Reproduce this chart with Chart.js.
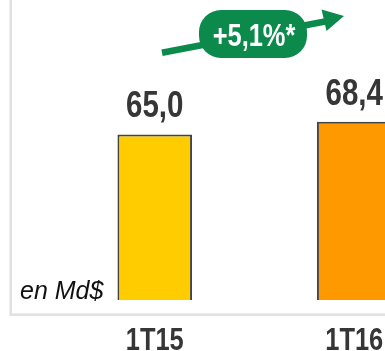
<!DOCTYPE html>
<html>
<head>
<meta charset="utf-8">
<script src="https://cdn.jsdelivr.net/npm/chart.js@4.4.0/dist/chart.umd.min.js"></script>
<style>
  html, body { margin: 0; padding: 0; background: #fff; overflow: hidden; }
  #wrap { width: 385px; height: 351px; overflow: hidden; }
</style>
</head>
<body>
<div id="wrap"><canvas id="chart" width="560" height="351"></canvas></div>
<script>
// data
const quarters = ["1T15", "1T16"];
const revenue = [65.0, 68.4];
const barColors = ["#ffcc00", "#ff9900"];
const growthLabel = "+5,1%*";
const unitLabel = "en Md$";
const yMin = 20.3;
const yMax = 101.3;

const sans = "'Liberation Sans', Arial, sans-serif";
const green = "#0b8a4c";
const darkText = "#363636";
const squeeze = 0.82; // no Arial Narrow here, so squeeze the bold sans

const fmt = v => v.toFixed(1).replace(".", ",");

function narrowText(ctx, text, x, y, sx) {
  ctx.save();
  ctx.translate(x, y);
  ctx.scale(sx, 1);
  ctx.fillText(text, 0, 0);
  ctx.restore();
}

// light gray frame round the plot
const framePlugin = {
  id: "frame",
  beforeDraw(chart) {
    const ctx = chart.ctx;
    ctx.save();
    ctx.strokeStyle = "#e1e1e1";
    ctx.lineWidth = 2.5;
    ctx.strokeRect(10.7, -10, 800, 324.7);
    ctx.restore();
  }
};

// values above bars, category labels, unit text, growth arrow
const labelsPlugin = {
  id: "labels",
  afterDatasetsDraw(chart) {
    const ctx = chart.ctx;
    const area = chart.chartArea;
    const xScale = chart.scales.x;
    const meta = chart.getDatasetMeta(0);
    ctx.save();
    ctx.fillStyle = darkText;
    ctx.textAlign = "center";
    ctx.textBaseline = "alphabetic";
    ctx.font = "bold 36px " + sans;
    meta.data.forEach((bar, i) => {
      narrowText(ctx, fmt(revenue[i]), bar.x, bar.y - 17, squeeze);
    });
    ctx.font = "bold 31px " + sans;
    quarters.forEach((q, i) => {
      narrowText(ctx, q, xScale.getPixelForTick(i), area.bottom + 50, squeeze);
    });

    ctx.fillStyle = "#111";
    ctx.font = "italic 25px " + sans;
    ctx.textAlign = "left";
    ctx.fillText(unitLabel, 20, area.bottom - 1);

    // arrow
    ctx.strokeStyle = green;
    ctx.fillStyle = green;
    ctx.lineWidth = 6.5;
    ctx.beginPath();
    ctx.moveTo(162, 52.7);
    ctx.lineTo(325, 21.5);
    ctx.stroke();
    ctx.beginPath();
    ctx.moveTo(344, 16);
    ctx.lineTo(321.5, 9.5);
    ctx.lineTo(326.5, 31);
    ctx.closePath();
    ctx.fill();

    // pill
    ctx.beginPath();
    ctx.roundRect(199, 10, 108, 48, 22);
    ctx.fill();
    ctx.fillStyle = "#fff";
    ctx.font = "bold 31px " + sans;
    ctx.textAlign = "center";
    narrowText(ctx, growthLabel, 254, 46, squeeze);
    ctx.restore();
  }
};

new Chart(document.getElementById("chart"), {
  type: "bar",
  data: {
    labels: quarters,
    datasets: [{
      data: revenue,
      backgroundColor: barColors,
      borderColor: "#444444",
      borderWidth: 2,
      borderSkipped: false,
      categoryPercentage: 1,
      barPercentage: 0.374
    }]
  },
  options: {
    responsive: false,
    animation: false,
    events: [],
    layout: { padding: { left: 55, right: 106, top: 0, bottom: 51 } },
    plugins: { legend: { display: false }, tooltip: { enabled: false } },
    scales: {
      x: { display: false },
      y: { display: false, min: yMin, max: yMax }
    }
  },
  plugins: [framePlugin, labelsPlugin]
});
</script>
</body>
</html>
